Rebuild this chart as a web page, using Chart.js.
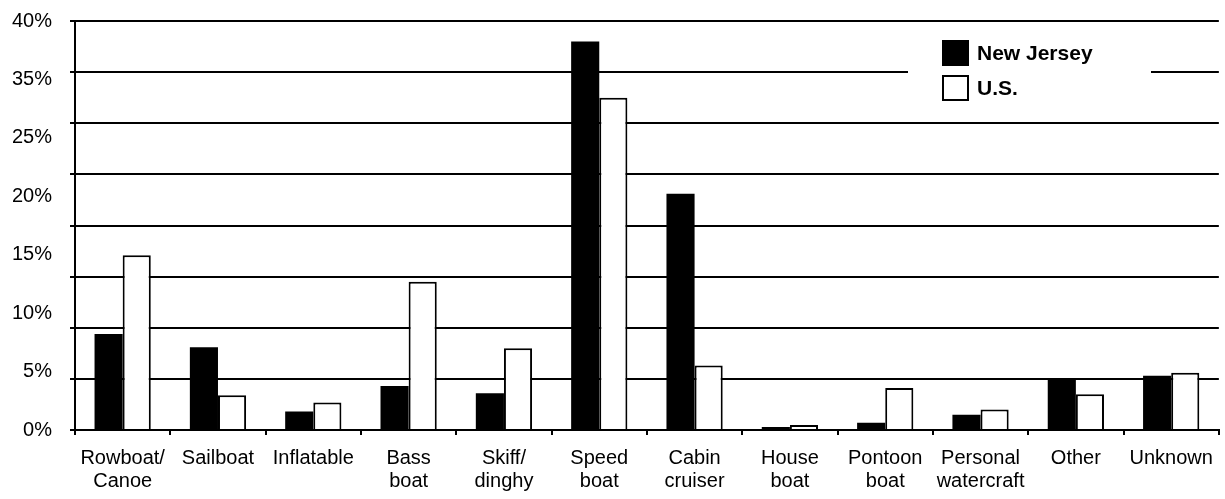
<!DOCTYPE html>
<html>
<head>
<meta charset="utf-8">
<script src="https://cdn.jsdelivr.net/npm/chart.js@4/dist/chart.umd.min.js"></script>
<style>
  html, body { margin: 0; padding: 0; background: #fff; }
</style>
</head>
<body>
<canvas id="boatChart" width="1225" height="499"></canvas>
<script>
// boat types (x axis)
const categories = [
  ['Rowboat/', 'Canoe'], 'Sailboat', 'Inflatable', ['Bass', 'boat'], ['Skiff/', 'dinghy'],
  ['Speed', 'boat'], ['Cabin', 'cruiser'], ['House', 'boat'], ['Pontoon', 'boat'],
  ['Personal', 'watercraft'], 'Other', 'Unknown'
];
// percent of boats
const newJersey = [9.4, 8.1, 1.8, 4.3, 3.6, 38.0, 23.1, 0.3, 0.7, 1.5, 4.9, 5.3];
const unitedStates = [17.1, 3.4, 2.7, 14.5, 8.0, 32.5, 6.3, 0.5, 4.1, 2.0, 3.5, 5.6];
// y labels as printed (no 30%)
const tickLabels = ['0%', '5%', '10%', '15%', '20%', '25%', '35%', '40%'];

Chart.defaults.font.family = '"Liberation Sans", Arial, sans-serif';
Chart.defaults.font.size = 20;
Chart.defaults.color = '#000';

// legend drawn inside the plot, on a white patch over the grid
const boxLegend = {
  id: 'boxLegend',
  afterDraw(chart) {
    const ctx = chart.ctx;
    ctx.save();
    ctx.fillStyle = '#fff';
    ctx.fillRect(908, 30, 243, 78);
    ctx.font = 'bold 21px "Liberation Sans", Arial, sans-serif';
    ctx.textBaseline = 'middle';
    chart.data.datasets.forEach((ds, i) => {
      const y = 40 + i * 35;
      ctx.fillStyle = ds.backgroundColor;
      ctx.fillRect(942, y, 27, 26);
      ctx.strokeStyle = '#000';
      ctx.lineWidth = 2;
      ctx.strokeRect(943, y + 1, 25, 24);
      ctx.fillStyle = '#000';
      ctx.fillText(ds.label, 977, y + 14);
    });
    ctx.restore();
  }
};

new Chart(document.getElementById('boatChart'), {
  type: 'bar',
  data: {
    labels: categories,
    datasets: [
      {
        label: 'New Jersey',
        data: newJersey,
        backgroundColor: '#000',
        borderColor: '#000',
        borderWidth: 0
      },
      {
        label: 'U.S.',
        data: unitedStates,
        backgroundColor: '#fff',
        borderColor: '#000',
        borderWidth: 2
      }
    ]
  },
  options: {
    responsive: false,
    animation: false,
    devicePixelRatio: 1,
    categoryPercentage: 0.59,
    barPercentage: 1,
    layout: { padding: { top: 8, right: 3, bottom: 2, left: 0 } },
    plugins: {
      legend: { display: false },
      tooltip: { enabled: false }
    },
    scales: {
      x: {
        grid: {
          display: true,
          drawOnChartArea: false,
          drawTicks: true,
          tickLength: 5,
          offset: true,
          color: '#000',
          lineWidth: 2
        },
        border: { color: '#000', width: 2 },
        ticks: {
          maxRotation: 0,
          autoSkip: false,
          padding: 12,
          font: { size: 20, lineHeight: 1.15 }
        },
        afterFit(scale) { scale.height = 67; }
      },
      y: {
        position: 'left',
        weight: 0,
        min: 0,
        max: 40,
        grid: {
          color: '#000',
          lineWidth: 2,
          drawTicks: true,
          tickLength: 5
        },
        border: { color: '#000', width: 2 },
        ticks: { display: false, stepSize: 5 },
        afterFit(scale) { scale.width = 6; }
      },
      yLabels: {
        type: 'linear',
        position: 'left',
        weight: 1,
        min: 0,
        max: 7,
        grid: { display: false },
        border: { display: false },
        ticks: {
          stepSize: 1,
          padding: 9,
          callback: (v) => tickLabels[v]
        },
        afterFit(scale) { scale.width = 69; }
      }
    }
  },
  plugins: [boxLegend]
});
</script>
</body>
</html>
